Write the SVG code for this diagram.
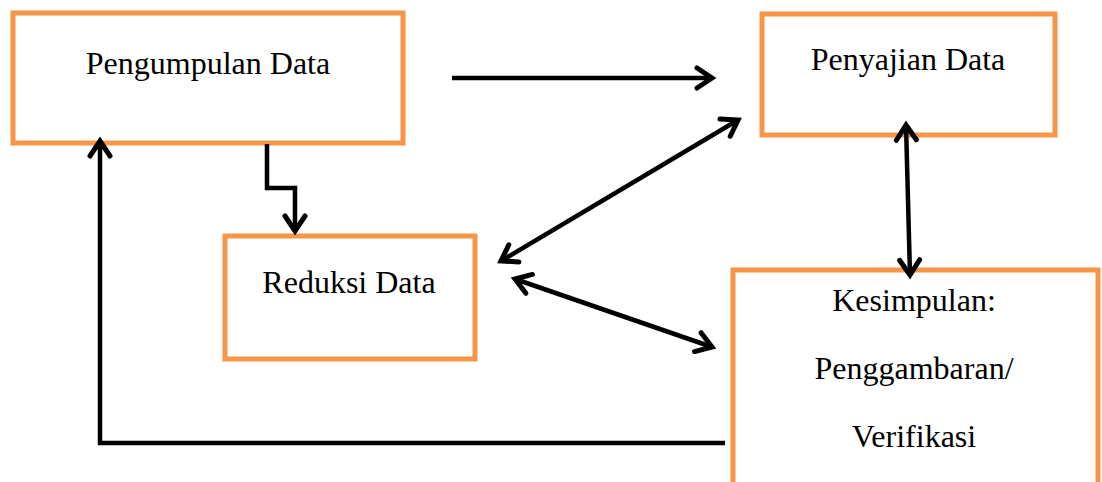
<svg xmlns="http://www.w3.org/2000/svg" width="1102" height="482" viewBox="0 0 1102 482">
<style>
.box{fill:#ffffff;stroke:#F79646;stroke-width:5}
.lbl{font-family:"Liberation Serif","Times New Roman",serif;font-size:32px;fill:#000;text-anchor:middle}
.con{fill:none;stroke:#000;stroke-width:4.5;stroke-linejoin:miter}
</style>
<defs>
<marker id="ah" markerUnits="userSpaceOnUse" viewBox="-24 -16 30 32" refX="0" refY="0" markerWidth="30" markerHeight="32" orient="auto-start-reverse">
<path d="M-15,-10 L0,0 L-15,10" fill="none" stroke="#000" stroke-width="5" stroke-linecap="round" stroke-linejoin="miter"/>
</marker>
</defs>
<rect width="1102" height="482" fill="#ffffff"/>
<g id="pengumpulan">
<rect class="box" x="13" y="13" width="390" height="130"/>
<text class="lbl" x="208" y="74">Pengumpulan Data</text>
</g>
<g id="penyajian">
<rect class="box" x="762" y="14" width="293" height="121"/>
<text class="lbl" x="908" y="70">Penyajian Data</text>
</g>
<g id="reduksi">
<rect class="box" x="225" y="236" width="250" height="123"/>
<text class="lbl" x="349" y="293">Reduksi Data</text>
</g>
<g id="kesimpulan">
<rect class="box" x="733" y="270" width="365" height="240"/>
<text class="lbl" x="914" y="311">Kesimpulan:</text>
<text class="lbl" x="914" y="379">Penggambaran/</text>
<text class="lbl" x="914" y="447">Verifikasi</text>
</g>
<g id="connectors">
<path class="con" d="M452,78 L712,78" marker-end="url(#ah)"/>
<path class="con" d="M906,125 L910,275" marker-start="url(#ah)" marker-end="url(#ah)"/>
<path class="con" d="M738,120 L501,261" marker-start="url(#ah)" marker-end="url(#ah)"/>
<path class="con" d="M515,279 L712,347" marker-start="url(#ah)" marker-end="url(#ah)"/>
<path class="con" d="M267,144 L267,188 L295,188 L295,231" marker-end="url(#ah)"/>
<path class="con" d="M725,443 L100,443 L100,141" marker-end="url(#ah)"/>
</g>
</svg>
